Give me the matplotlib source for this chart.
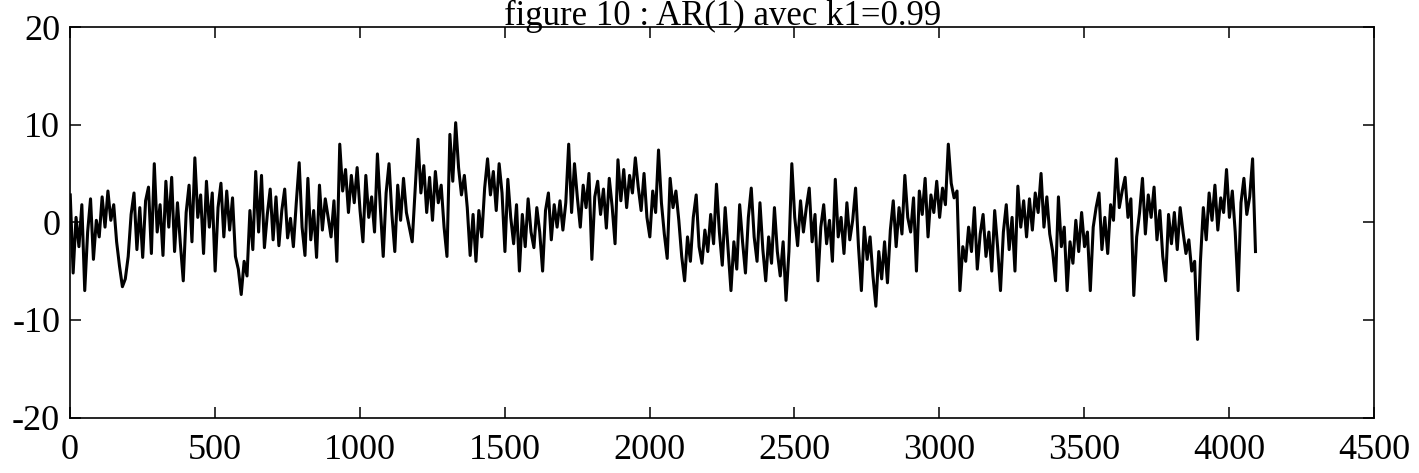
import matplotlib.pyplot as plt
import numpy as np

plt.rcParams['font.family'] = ['Liberation Serif', 'DejaVu Serif']
plt.rcParams['axes.unicode_minus'] = False

# valeurs, un point tous les 10 echantillons
blocs_0_1000 = [
    2.8, -5.2, 0.5, -2.5, 1.8, -7.0, -1.0, 2.4, -3.8, 0.2,
    -1.5, 2.6, -0.5, 3.2, 0.2, 1.8, -2.0, -4.5, -6.6, -5.8,
    -3.5, 0.8, 3.0, -2.8, 1.5, -3.6, 2.2, 3.6, -3.2, 6.0,
    -1.0, 1.8, -3.4, 4.2, -0.5, 4.6, -3.0, 2.0, -2.2, -6.0,
    1.0, 3.8, -2.0, 6.6, 0.5, 2.8, -3.2, 4.2, -0.5, 3.0,
    -5.0, 1.5, 4.0, -1.5, 3.2, -0.8, 2.5, -3.5, -4.8, -7.4,
    -4.0, -5.5, 1.2, -2.8, 5.2, -1.0, 4.8, -2.6, 0.8, 3.4,
    -1.8, 2.6, -2.4, 1.2, 3.4, -1.6, 0.4, -2.5, 2.0, 6.1,
    -0.5, -3.4, 4.5, -1.8, 1.2, -3.6, 3.8, -0.8, 2.4, 0.5,
    -1.5, 2.2, -4.0, 8.0, 3.2, 5.4, 1.0, 4.8, 2.0, 5.6,
]
blocs_1000_2000 = [
    1.2, -2.0, 4.8, 0.5, 2.6, -1.0, 7.0, 1.5, -3.5, 3.0,
    6.0, 0.8, -3.0, 3.8, 0.2, 4.5, 1.0, -0.5, -2.0, 3.2,
    8.5, 3.0, 5.8, 1.0, 4.6, 0.2, 5.2, 2.0, 3.8, -0.5,
    -3.5, 9.0, 4.2, 10.2, 5.6, 2.8, 4.8, 1.5, -3.4, 0.8,
    -4.0, 1.2, -1.5, 3.5, 6.5, 2.8, 5.2, 1.2, 6.0, 3.0,
    -3.0, 4.4, 0.5, -2.2, 1.8, -5.0, 0.8, -2.5, 2.4, -1.0,
    -2.6, 1.5, -1.0, -5.0, 1.2, 3.0, -1.8, 1.8, -0.5, 2.2,
    -0.8, 2.0, 8.0, 1.0, 6.0, 2.5, -0.5, 3.8, 1.5, 5.0,
    -3.8, 2.6, 4.2, 0.8, 3.4, -0.6, 4.5, 1.6, -2.2, 6.4,
    2.2, 5.4, 1.5, 4.8, 3.0, 6.6, 3.6, 1.2, 5.0, 0.5,
]
blocs_2000_3000 = [
    -1.5, 3.2, 1.0, 7.4, 2.0, -1.2, -3.7, 4.5, 1.5, 3.2,
    0.2, -3.5, -6.0, -1.5, -4.0, 0.5, 2.8, -2.5, -4.2, -0.8,
    -3.0, 0.8, -2.2, 3.9, -1.0, -4.4, 1.5, -2.8, -7.0, -2.0,
    -4.8, 1.8, -2.0, -5.2, 0.5, 3.5, -1.5, -4.0, 2.0, -2.8,
    -6.0, -1.5, -4.2, 1.5, -3.0, -5.5, -2.0, -8.0, -3.0, 6.0,
    0.5, -2.4, 2.2, -1.0, 1.5, 3.5, -2.0, 0.8, -6.0, -0.5,
    1.8, -2.2, 0.2, -4.0, 4.4, -1.5, 0.5, -3.2, 2.0, -1.8,
    0.2, 3.5, -2.5, -7.0, -0.5, -3.8, -1.5, -5.5, -8.6, -3.0,
    -5.8, -2.0, -6.2, -0.8, 2.2, -2.5, 1.5, -1.2, 4.8, 0.5,
    -1.0, 2.5, -5.0, 3.2, 0.8, 4.5, -1.5, 2.8, 1.0, 4.2,
]
blocs_3000_4100 = [
    0.5, 3.5, 1.8, 8.0, 4.0, 2.5, 3.2, -7.0, -2.5, -4.0,
    -0.5, -3.0, 1.5, -4.8, -1.2, 0.8, -3.5, -1.0, -5.0, 1.2,
    -2.5, -7.0, -1.0, 1.8, -2.8, 0.5, -5.0, 3.7, -0.5, 2.2,
    -1.5, 2.4, -0.8, 3.0, 1.0, 5.0, -0.5, 2.6, -1.2, -3.0,
    -6.0, 2.6, -2.5, -0.5, -7.0, -2.0, -4.2, 0.2, -3.0, 1.0,
    -2.5, -1.0, -7.0, -0.5, 1.5, 3.0, -2.8, 0.5, -3.2, 1.8,
    0.2, 6.5, 1.5, 3.2, 4.6, 0.5, 2.4, -7.5, -1.5, 1.0,
    4.5, -1.2, 2.8, 0.5, 3.6, -1.8, 1.2, -3.5, -6.0, 0.8,
    -2.2, 1.0, -2.8, 1.5, -1.0, -3.2, -1.8, -5.0, -4.0, -12.0,
    -4.0, 1.5, -1.8, 3.0, 0.2, 3.8, -0.8, 2.5, 1.0, 5.4,
    0.5, 3.2, -1.0, -7.0, 2.0, 4.5, 0.8, 2.6, 6.5, -3.0,
]

serie = np.array(blocs_0_1000 + blocs_1000_2000 + blocs_2000_3000 + blocs_3000_4100)
n = 1 + 10 * np.arange(len(serie))

fig = plt.figure(figsize=(14.19, 4.73), dpi=100)
ax = fig.add_axes([0.0493, 0.1173, 0.919, 0.8256])

ax.plot(n, serie, color='black', linewidth=2.2)

ax.set_xlim(0, 4500)
ax.set_ylim(-20, 20)
ax.set_xticks(np.arange(0, 4501, 500))
ax.set_yticks([-20, -10, 0, 10, 20])
ax.tick_params(direction='in', top=True, right=True, length=8, width=1.1,
               labelsize=26)
ax.tick_params(axis='x', pad=12)
ax.tick_params(axis='y', pad=7)
for s in ax.spines.values():
    s.set_linewidth(1.2)

fig.text(0.509, 1 - 25 / 473, "figure 10 : AR(1) avec k1=0.99",
         ha='center', va='baseline', fontsize=25)

fig.savefig("out.png", dpi=100)
